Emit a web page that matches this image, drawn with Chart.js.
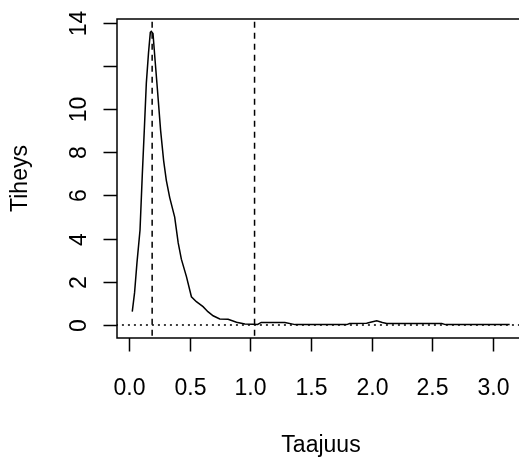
<!DOCTYPE html>
<html>
<head>
<meta charset="utf-8">
<script src="https://cdn.jsdelivr.net/npm/chart.js@4.4.1/dist/chart.umd.min.js"></script>
<style>
  html, body { margin: 0; padding: 0; background: #fff; }
  #wrap { width: 519px; height: 458px; }
</style>
</head>
<body>
<div id="wrap"><canvas id="spec" width="519" height="458"></canvas></div>
<script>
// smoothed spectral density estimate
var freq = [0.026, 0.045, 0.065, 0.09, 0.109, 0.125, 0.142, 0.16, 0.175, 0.183, 0.197,
    0.215, 0.235, 0.26, 0.285, 0.307, 0.335, 0.376, 0.405, 0.431, 0.473, 0.514,
    0.555, 0.61, 0.65, 0.693, 0.748, 0.817, 0.886, 0.955, 1.02, 1.06, 1.09,
    1.285, 1.37, 1.795, 1.82, 1.96, 2.0, 2.043, 2.09, 2.126, 2.58, 2.61, 3.14];
var density = [0.62, 1.5, 2.9, 4.4, 7.0, 9.0, 11.2, 12.6, 13.55, 13.6, 13.5,
    12.2, 10.8, 9.0, 7.6, 6.7, 5.9, 5.0, 3.8, 3.05, 2.24, 1.31,
    1.08, 0.85, 0.62, 0.43, 0.28, 0.27, 0.13, 0.05, 0.04, 0.03, 0.12,
    0.12, 0.02, 0.02, 0.07, 0.08, 0.14, 0.2, 0.12, 0.07, 0.07, 0.02, 0.02];

// reference frequencies (dashed) and zero level (dotted)
var markFreq = [0.19, 1.035];

var xTicks = [0, 0.5, 1, 1.5, 2, 2.5, 3];
var xTickLabels = ['0.0', '0.5', '1.0', '1.5', '2.0', '2.5', '3.0'];
var yTicks = [0, 2, 4, 6, 8, 10, 12, 14];
var yTickLabels = ['0', '2', '4', '6', '8', '10', '', '14'];

var xTitle = 'Taajuus';
var yTitle = 'Tiheys';

var curve = freq.map(function (f, i) { return { x: f, y: density[i] }; });

var datasets = [{
    data: curve,
    borderColor: '#000',
    borderWidth: 1.5,
    pointRadius: 0,
    tension: 0
}, {
    data: [{ x: -1, y: 0 }, { x: 4, y: 0 }],
    borderColor: '#000',
    borderWidth: 1.5,
    borderDash: [2, 4],
    pointRadius: 0
}];
markFreq.forEach(function (f) {
    datasets.push({
        data: [{ x: f, y: -1 }, { x: f, y: 15 }],
        borderColor: '#000',
        borderWidth: 1.5,
        borderDash: [6, 5],
        pointRadius: 0
    });
});

// base-graphics style frame, ticks and labels
var rAxes = {
    id: 'rAxes',
    afterDraw: function (chart) {
        var ctx = chart.ctx;
        var a = chart.chartArea;
        var xs = chart.scales.x, ys = chart.scales.y;
        var tick = 13.5;
        ctx.save();
        ctx.strokeStyle = '#000';
        ctx.fillStyle = '#000';
        ctx.lineWidth = 1.5;

        ctx.beginPath();
        ctx.moveTo(a.right + 10, a.top);
        ctx.lineTo(a.left, a.top);
        ctx.lineTo(a.left, a.bottom);
        ctx.lineTo(a.right + 10, a.bottom);
        ctx.stroke();

        ctx.font = '23px "Liberation Sans", Arial, sans-serif';
        ctx.textAlign = 'center';
        ctx.textBaseline = 'middle';

        ctx.beginPath();
        xTicks.forEach(function (v, i) {
            var px = Math.round(xs.getPixelForValue(v)) + 0.5;
            ctx.moveTo(px, a.bottom);
            ctx.lineTo(px, a.bottom + tick);
            ctx.fillText(xTickLabels[i], px, 389);
        });
        ctx.stroke();

        ctx.beginPath();
        yTicks.forEach(function (v, i) {
            var py = Math.round(ys.getPixelForValue(v)) + 0.5;
            ctx.moveTo(a.left, py);
            ctx.lineTo(a.left - tick, py);
            if (yTickLabels[i]) {
                ctx.save();
                ctx.translate(80, py);
                ctx.rotate(-Math.PI / 2);
                ctx.fillText(yTickLabels[i], 0, 0);
                ctx.restore();
            }
        });
        ctx.stroke();

        ctx.fillText(xTitle, 321, 446);
        ctx.save();
        ctx.translate(21, (a.top + a.bottom) / 2);
        ctx.rotate(-Math.PI / 2);
        ctx.fillText(yTitle, 0, 0);
        ctx.restore();
        ctx.restore();
    }
};

new Chart(document.getElementById('spec'), {
    type: 'line',
    data: { datasets: datasets },
    options: {
        responsive: false,
        animation: false,
        events: [],
        layout: { padding: { left: 117, top: 19, right: 0, bottom: 120 } },
        plugins: { legend: { display: false }, tooltip: { enabled: false } },
        scales: {
            x: { type: 'linear', min: -0.1, max: 3.217, display: false },
            y: { type: 'linear', min: -0.6, max: 14.17, display: false }
        }
    },
    plugins: [rAxes]
});
</script>
</body>
</html>
